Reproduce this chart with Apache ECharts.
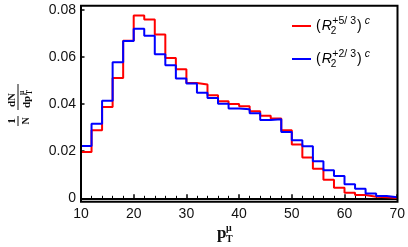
<!DOCTYPE html>
<html>
<head>
<meta charset="utf-8">
<script src="https://cdn.jsdelivr.net/npm/echarts@6/dist/echarts.min.js"></script>
<style>
html,body{margin:0;padding:0;background:#fff;}
#chart{width:408px;height:247px;}
</style>
</head>
<body>
<div id="chart"></div>
<script>
// Bin left edges (width 2), last edge closes the histogram
const binEdges = [10,12,14,16,18,20,22,24,26,28,30,32,34,36,38,40,42,44,46,48,50,52,54,56,58,60,62,64,66,68,70];
const red53 = [0.0197,0.0289,0.0388,0.0511,0.0669,0.0776,0.0759,0.0696,0.0596,0.0548,
               0.0490,0.0483,0.0438,0.0412,0.0400,0.0391,0.0370,0.0351,0.0339,0.0289,
               0.0228,0.0173,0.0126,0.0079,0.0045,0.0024,0.0014,0.0007,0.0004,0.0001];
const blue23 = [0.0222,0.0317,0.0414,0.0578,0.0668,0.0720,0.0690,0.0612,0.0565,0.0509,
                0.0487,0.0448,0.0426,0.0402,0.0381,0.0378,0.0361,0.0332,0.0336,0.0282,
                0.0247,0.0221,0.0157,0.0119,0.0095,0.0060,0.0041,0.0020,0.0010,0.0004];
const xTicks = [10,20,30,40,50,60,70];
const yTicks = [0,0.02,0.04,0.06,0.08];

function histData(vals){
  const d = vals.map((v,i)=>[binEdges[i], v]);
  d.push([binEdges[binEdges.length-1], vals[vals.length-1]]);
  return d;
}

const chart = echarts.init(document.getElementById('chart'), null, {renderer:'canvas'});
const legendRich = {
  p:{fontFamily:'Liberation Sans', fontSize:14, lineHeight:20, color:'#000', verticalAlign:'middle'},
  R:{fontFamily:'Liberation Sans', fontStyle:'italic', fontSize:14, lineHeight:20, color:'#000', verticalAlign:'middle', padding:[0,1,0,1]},
  sb:{fontFamily:'Liberation Sans', fontSize:10, lineHeight:12, color:'#000', verticalAlign:'bottom', padding:[0,0,0,-2]},
  sp:{fontFamily:'Liberation Sans', fontSize:10.5, lineHeight:4, color:'#000', verticalAlign:'top', padding:[0,1,0,-4]},
  c:{fontFamily:'Liberation Sans', fontStyle:'italic', fontSize:10.5, lineHeight:7, color:'#000', verticalAlign:'top', padding:[0,0,0,3]}
};
const option = {
  animation:false,
  backgroundColor:'#fff',
  grid:{left:81, right:10.5, top:9.9, bottom:48.7, containLabel:false},
  xAxis:{
    type:'value', min:xTicks[0], max:xTicks[xTicks.length-1], interval:10, offset:3.3,
    axisLine:{show:true, lineStyle:{color:'#000', width:2}},
    axisTick:{show:true, inside:true, length:4, lineStyle:{color:'#000', width:1.5}},
    minorTick:{show:true, splitNumber:5, length:2.5, lineStyle:{color:'#000', width:1}},
    axisLabel:{color:'#111', fontFamily:'Liberation Sans', fontSize:14, margin:6},
    splitLine:{show:false}
  },
  yAxis:{
    type:'value', min:yTicks[0], max:yTicks[yTicks.length-1], interval:0.02,
    axisLine:{show:false},
    axisTick:{show:true, inside:true, length:3.5, lineStyle:{color:'#000', width:1.5}},
    axisLabel:{color:'#111', fontFamily:'Liberation Sans', fontSize:14, margin:5,
      formatter:v=> v===0 ? '0' : v.toFixed(2)},
    splitLine:{show:false}
  },
  legend:{
    orient:'vertical', left:292, top:16, padding:0, itemWidth:19, itemHeight:2, itemGap:13,
    icon:'rect', selectedMode:false,
    data:[{name:'a', itemStyle:{color:'#ff0000'}},{name:'b', itemStyle:{color:'#0000ff'}}],
    formatter:n=> n==='a' ? '{p|(}{R|R}{sb|2}{sp|+5/ 3}{p|)}{c|c}' : '{p|(}{R|R}{sb|2}{sp|+2/ 3}{p|)}{c|c}',
    textStyle:{rich:legendRich}
  },
  graphic:[
    {type:'rect', shape:{x:81, y:5.7, width:316.5, height:196}, style:{fill:'none', stroke:'#000', lineWidth:2}, silent:true, z:10},
    {type:'group', x:217, y:0, children:[
      {type:'text', x:0, y:234, style:{text:'p', font:'bold 17px "Liberation Serif"', fill:'#111', verticalAlign:'middle'}},
      {type:'text', x:9, y:239, style:{text:'T', font:'bold 10px "Liberation Serif"', fill:'#111', verticalAlign:'middle'}},
      {type:'text', x:9, y:228, style:{text:'μ', font:'bold 10px "Liberation Serif"', fill:'#111', verticalAlign:'middle'}}
    ]},
    {type:'group', x:17, y:121, rotation:Math.PI/2, children:[
      {type:'text', x:0, y:-5, style:{text:'1', font:'bold 11px "Liberation Serif"', fill:'#111', align:'center', verticalAlign:'middle'}},
      {type:'text', x:0, y:9, style:{text:'N', font:'bold 10px "Liberation Serif"', fill:'#111', align:'center', verticalAlign:'middle'}},
      {type:'line', shape:{x1:-5, y1:1, x2:5, y2:1}, style:{stroke:'#111', lineWidth:1}},
      {type:'text', x:21, y:-5, style:{text:'dN', font:'bold 11px "Liberation Serif"', fill:'#111', align:'center', verticalAlign:'middle'}},
      {type:'text', x:13, y:10, style:{text:'dp', font:'bold 11px "Liberation Serif"', fill:'#111', align:'left', verticalAlign:'middle'}},
      {type:'text', x:26, y:13, style:{text:'T', font:'bold 7.5px "Liberation Serif"', fill:'#111', align:'left', verticalAlign:'middle'}},
      {type:'text', x:26, y:5, style:{text:'μ', font:'bold 7.5px "Liberation Serif"', fill:'#111', align:'left', verticalAlign:'middle'}},
      {type:'line', shape:{x1:11, y1:1, x2:37, y2:1}, style:{stroke:'#111', lineWidth:1}}
    ]}
  ],
  series:[
    {name:'a', type:'line', step:'end', data:histData(red53), showSymbol:false, symbol:'none',
      lineStyle:{color:'#ff0000', width:2}, itemStyle:{color:'#ff0000'}, clip:false, z:2},
    {name:'b', type:'line', step:'end', data:histData(blue23), showSymbol:false, symbol:'none',
      lineStyle:{color:'#0000ff', width:2}, itemStyle:{color:'#0000ff'}, clip:false, z:3}
  ]
};
chart.setOption(option);
</script>
</body>
</html>
